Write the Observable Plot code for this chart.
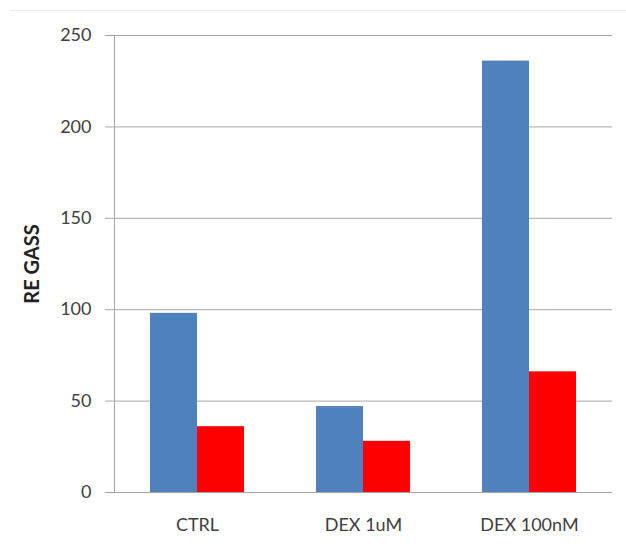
<!DOCTYPE html>
<html><head><meta charset="utf-8">
<script src="https://cdn.jsdelivr.net/npm/d3@7"></script>
<script src="https://cdn.jsdelivr.net/npm/@observablehq/plot@0.6"></script>
<style>
body{margin:0;background:#fff;}
#wrap{position:relative;width:626px;height:550px;}
#edge{position:absolute;left:10px;right:0;top:10px;border-top:1px solid #ececec;}
</style>
</head><body><div id="wrap"><div id="edge"></div></div>
<script>
const groups = ["CTRL", "DEX 1uM", "DEX 100nM"];
const series = ["A", "B"];
const seriesA = [98, 47, 236];
const seriesB = [36, 28, 66];
const yTicks = [0, 50, 100, 150, 200, 250];
const seriesColors = ["#4f81bd", "#ff0000"];

const data = groups.flatMap((g, i) => [
  {group: g, series: "A", value: seriesA[i]},
  {group: g, series: "B", value: seriesB[i]}
]);
const grid = "#a6a6a6";
const chart = Plot.plot({
  width: 626, height: 550,
  marginLeft: 113, marginRight: 13, marginTop: 35, marginBottom: 58,
  style: {fontFamily: "Lato", fontSize: "18px", color: "#404040", background: "transparent"},
  fx: {domain: groups, padding: 0, label: null},
  x: {domain: series, paddingInner: 0, paddingOuter: 0.755, axis: null},
  y: {domain: [0, 250], ticks: yTicks, label: null},
  color: {domain: series, range: seriesColors},
  marks: [
    Plot.gridY(yTicks, {stroke: grid, strokeOpacity: 1}),
    Plot.barY(data, {fx: "group", x: "series", y: "value", fill: "series"}),
    Plot.axisY(yTicks, {tickSize: 9, tickPadding: 14, stroke: grid, label: null, facetAnchor: "left"}),
    Plot.frame({anchor: "left", stroke: grid, strokeOpacity: 1, facetAnchor: "left"}),
    Plot.axisFx({anchor: "bottom", tickSize: 0, tickPadding: 26, label: null}),
    Plot.text(["RE GASS"], {text: d => d, frameAnchor: "left", textAnchor: "middle", rotate: -90, dx: -82, fontSize: 20, fontWeight: "bold", fill: "#222", facetAnchor: "left"})
  ]
});
document.getElementById("wrap").appendChild(chart);
chart.style.position = "absolute";
chart.style.left = "0";
chart.style.top = "0";
</script>
</body></html>
